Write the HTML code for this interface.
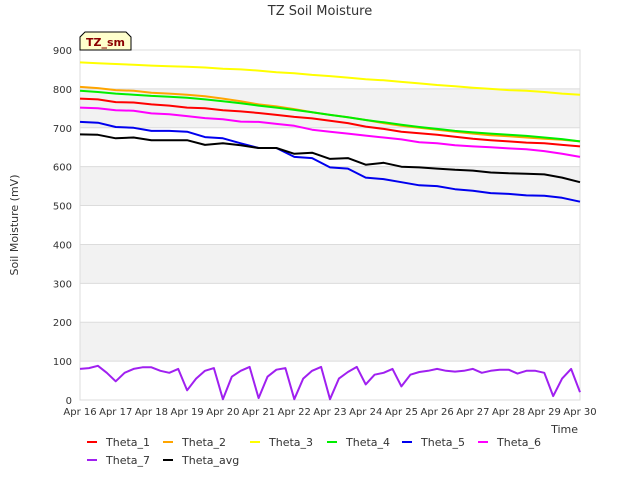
<!DOCTYPE html>
<html><head><meta charset="utf-8"><style>
body{margin:0;background:#fff;font-family:"Liberation Sans","DejaVu Sans",sans-serif}
svg text{font-family:"DejaVu Sans","Liberation Sans",sans-serif}
</style></head><body>
<svg id="c" width="640" height="480" viewBox="0 0 640 480">
<text x="320" y="15" text-anchor="middle" font-size="13" fill="#333">TZ Soil Moisture</text>
<g id="bands"></g><g id="grid"></g><g id="series"></g><g id="ticks"></g>
<text x="18" y="225" transform="rotate(-90 18 225)" text-anchor="middle" font-size="11" fill="#333">Soil Moisture (mV)</text>
<text x="578" y="433" text-anchor="end" font-size="11" fill="#333">Time</text>
<g>
<path d="M85,32 L126,32 L131,37 L131,50 L80,50 L80,37 Z" fill="#ffffcc" stroke="#000" stroke-width="1"/>
<text x="105.5" y="46" text-anchor="middle" font-size="11" font-weight="bold" fill="#8b0000">TZ_sm</text>
</g>
<g id="legend"></g>
</svg>
<script>
const dayLabels=["Apr 16","Apr 17","Apr 18","Apr 19","Apr 20","Apr 21","Apr 22","Apr 23","Apr 24","Apr 25","Apr 26","Apr 27","Apr 28","Apr 29","Apr 30"];
const yTicks=[0,100,200,300,400,500,600,700,800,900];
const seriesNames=["Theta_1","Theta_2","Theta_3","Theta_4","Theta_5","Theta_6","Theta_7","Theta_avg"];
const seriesColors=["#ff0000","#ffa500","#ffff00","#00ee00","#0000ee","#ff00ff","#a020f0","#000000"];
// half-day samples, days 0..14 (29 values)
const theta1=[775,773,766,765,760,757,752,750,745,742,738,733,728,724,718,712,703,697,690,686,682,677,672,668,665,662,660,656,652];
const theta2=[805,802,797,795,790,788,785,781,775,768,760,755,748,740,733,727,720,712,705,700,695,690,685,681,678,675,672,669,665];
const theta3=[868,866,864,862,860,858,857,855,852,850,847,843,840,836,833,829,825,822,818,814,810,807,803,800,797,795,792,788,785];
const theta4=[795,792,788,785,782,780,777,773,768,763,757,752,746,740,733,727,720,714,708,702,697,692,688,685,682,679,675,671,665];
const theta5=[715,713,702,700,692,692,690,676,673,660,648,648,625,622,598,595,572,568,560,552,550,542,538,532,530,526,525,520,510];
const theta6=[752,750,745,744,737,735,730,725,722,716,715,710,705,695,690,685,680,675,670,663,660,655,652,650,647,645,640,633,625];
const thetaAvg=[683,682,673,675,668,668,668,656,660,655,648,648,633,636,620,622,605,610,600,598,595,592,590,585,583,582,580,572,560];
// quarter-day samples, days 0..14 (57 values)
const theta7=[80,82,88,70,48,70,80,84,84,75,70,80,25,55,75,82,2,60,75,85,5,60,78,82,2,55,75,85,2,55,72,85,40,65,70,80,35,65,72,75,80,75,73,75,80,70,75,78,78,68,75,75,70,10,55,80,20];
const NS="http://www.w3.org/2000/svg";
const X0=80,X1=580,Y0=400,Y1=50;
const xs=d=>X0+(d/14)*(X1-X0);
const ys=v=>Y0-(v/900)*(Y0-Y1);
function mk(t,a,p){const e=document.createElementNS(NS,t);for(const k in a)e.setAttribute(k,a[k]);p.appendChild(e);return e;}
const bands=document.getElementById('bands'),grid=document.getElementById('grid'),ticks=document.getElementById('ticks'),ser=document.getElementById('series'),leg=document.getElementById('legend');
for(let i=0;i<yTicks.length-1;i++){
 if(i%2===1){const r=mk('rect',{x:X0,y:ys(yTicks[i+1]),width:X1-X0,height:ys(yTicks[i])-ys(yTicks[i+1]),fill:'#f2f2f2'},bands);
 
 }
}
yTicks.forEach(v=>{
 const l=mk('line',{x1:X0,x2:X1,y1:ys(v),y2:ys(v),stroke:'#dcdcdc','stroke-width':1},grid);
 
 
 const t=mk('text',{x:X0-8,y:ys(v)+4,'text-anchor':'end','font-size':10,fill:'#333'},ticks);
 
 
 t.textContent=v;
});
const fr=mk('rect',{x:X0,y:Y1,width:X1-X0,height:Y0-Y1,fill:'none',stroke:'#dcdcdc'},grid);


dayLabels.forEach((s,i)=>{
 const t=mk('text',{x:xs(i),y:Y0+15,'text-anchor':'middle','font-size':10,fill:'#333'},ticks);
 
 
 t.textContent=s;
});
function resample(arr){return arr.map((v,i)=>[i*14/(arr.length-1),v]);}
const data=[theta1,theta2,theta3,theta4,theta5,theta6,theta7,thetaAvg].map(resample);
const order=[2,1,3,0,5,4,7,6];
order.forEach(k=>{
 const pts=data[k].map(([d,v])=>xs(d).toFixed(1)+','+ys(v).toFixed(1)).join(' ');
 const p=mk('polyline',{points:pts,fill:'none',stroke:seriesColors[k],'stroke-width':2,'stroke-linejoin':'round'},ser);
 
 
});
const legPos=[[87,443],[163,443],[250,443],[327,443],[402,443],[478,443],[87,461],[163,461]];
seriesNames.forEach((n,i)=>{
 const [x,y]=legPos[i];
 const g=mk('g',{},leg);
 
 
 mk('line',{x1:x,x2:x+10,y1:y-1,y2:y-1,stroke:seriesColors[i],'stroke-width':2},g);
 const t=mk('text',{x:x+19,y:y+3,'font-size':11,fill:'#333'},g);
 t.textContent=n;
});
</script>
</body></html>
